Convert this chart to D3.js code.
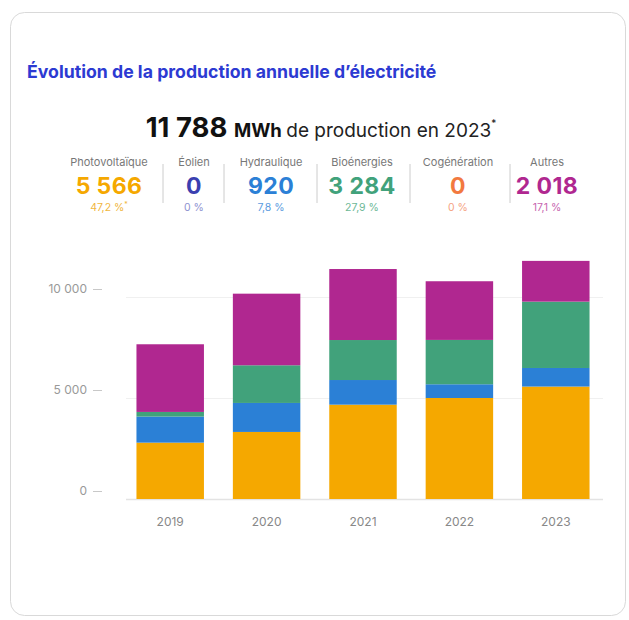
<!DOCTYPE html>
<html><head><meta charset="utf-8">
<script src="https://cdn.jsdelivr.net/npm/d3@7"></script>
<style>
html,body{margin:0;padding:0;background:#fff;}
svg{display:block;font-family:Inter,"Noto Sans",sans-serif;}
</style></head>
<body>
<svg id="c" width="629" height="620"></svg>
<script>
const years = ["2019","2020","2021","2022","2023"];
const seriesNames = ["Photovoltaïque","Éolien","Hydraulique","Bioénergies","Cogénération","Autres"];
const photovoltaique = [2790, 3320, 4670, 5000, 5566];
const eolien = [0, 0, 0, 0, 0];
const hydraulique = [1290, 1435, 1220, 680, 920];
const bioenergies = [230, 1865, 1980, 2195, 3284];
const cogeneration = [0, 0, 0, 0, 0];
const autres = [3350, 3545, 3515, 2905, 2018];
const totals2023 = ["5 566","0","920","3 284","0","2 018"];
const shares2023 = ["47,2 %","0 %","7,8 %","27,9 %","0 %","17,1 %"];
const yTicks = [0, 5000, 10000];
const yTickLabels = ["0","5 000","10 000"];

const colors = ["#F5A800","#3B3FB0","#2B80D6","#41A27B","#F2793F","#B02790"];
const lightColors = ["#F0B640","#8E92D0","#5B9BE0","#6DB897","#F5A383","#C766B0"];

const svg = d3.select("#c");
// card
svg.append("rect").attr("x",10.5).attr("y",12.5).attr("width",615).attr("height",603)
  .attr("rx",14).attr("fill","#fff").attr("stroke","#d9d9d9").attr("stroke-width",1);

svg.append("text").attr("x",27).attr("y",78).attr("fill","#2C3AD2")
  .attr("font-size",17.7).attr("font-weight",700)
  .text("Évolution de la production annuelle d’électricité");

const head = svg.append("text").attr("x",321).attr("y",137).attr("text-anchor","middle").attr("fill","#111");
head.append("tspan").attr("font-size",27.5).attr("font-weight",700).text("11 788 ");
head.append("tspan").attr("font-size",18.5).attr("font-weight",700).text("MWh ");
head.append("tspan").attr("font-size",19).attr("font-weight",400).attr("fill","#222").text("de production en 2023");
head.append("tspan").attr("font-size",10).attr("dy",-10).text("*");

const colX = [109, 194, 271, 362, 458, 547];
const sepX = [163, 224, 317, 410, 510];
seriesNames.forEach((n,i)=>{
  svg.append("text").attr("x",colX[i]).attr("y",166).attr("text-anchor","middle")
    .attr("font-size",11).attr("fill","#777").text(n);
  svg.append("text").attr("x",colX[i]).attr("y",194).attr("text-anchor","middle")
    .attr("font-size",23).attr("font-weight",700).attr("letter-spacing",0.4)
    .attr("fill",colors[i]).text(totals2023[i]);
  const p = svg.append("text").attr("x",colX[i]).attr("y",211).attr("text-anchor","middle")
    .attr("font-size",10.5).attr("fill",lightColors[i]).text(shares2023[i]);
  if(i===0) p.append("tspan").attr("font-size",7).attr("dy",-4).text("*");
});
sepX.forEach(x=>{
  svg.append("line").attr("x1",x).attr("x2",x).attr("y1",164).attr("y2",203)
    .attr("stroke","#ccc").attr("stroke-width",1);
});

// chart
const x = d3.scaleBand().domain(years).range([122,604]).paddingInner(0.3).paddingOuter(0.15);
const y = d3.scaleLinear().domain([0,10000]).range([499,297]);

const rows = years.map((yr,i)=>({year:yr,
  "Photovoltaïque":photovoltaique[i],"Éolien":eolien[i],"Hydraulique":hydraulique[i],
  "Bioénergies":bioenergies[i],"Cogénération":cogeneration[i],"Autres":autres[i]}));
const stackOrder = ["Photovoltaïque","Éolien","Hydraulique","Bioénergies","Cogénération","Autres"];
const stacked = d3.stack().keys(stackOrder)(rows);

// gridlines
svg.append("g").selectAll("line").data(yTicks).join("line")
  .attr("x1",126).attr("x2",603).attr("y1",d=>y(d)+0.5).attr("y2",d=>y(d)+0.5)
  .attr("stroke",(d)=>d===0?"#e3e3e3":"#f0f0f0").attr("stroke-width",d=>d===0?1.5:1);

// y axis
const yAxis = d3.axisLeft(y).tickValues(yTicks).tickFormat((d,i)=>yTickLabels[i]).tickSize(9).tickPadding(6);
const ga = svg.append("g").attr("transform","translate(102,-8)").call(yAxis);
ga.select(".domain").remove();
ga.selectAll(".tick line").attr("stroke","#c8c8c8");
ga.selectAll(".tick text").attr("fill","#999").attr("font-size",12).attr("font-family","Inter,sans-serif");

// bars
svg.append("g").selectAll("g").data(stacked).join("g")
  .attr("fill",d=>colors[seriesNames.indexOf(d.key)])
  .selectAll("rect").data(d=>d).join("rect")
  .attr("x",d=>x(d.data.year)).attr("width",x.bandwidth())
  .attr("y",d=>y(d[1])).attr("height",d=>y(d[0])-y(d[1]));

// x axis
const xAxis = d3.axisBottom(x).tickSize(0).tickPadding(10);
const gx = svg.append("g").attr("transform","translate(0,507)").call(xAxis);
gx.select(".domain").remove();
gx.selectAll(".tick text").attr("fill","#888").attr("font-size",12).attr("font-family","Inter,sans-serif");
</script>
</body></html>
